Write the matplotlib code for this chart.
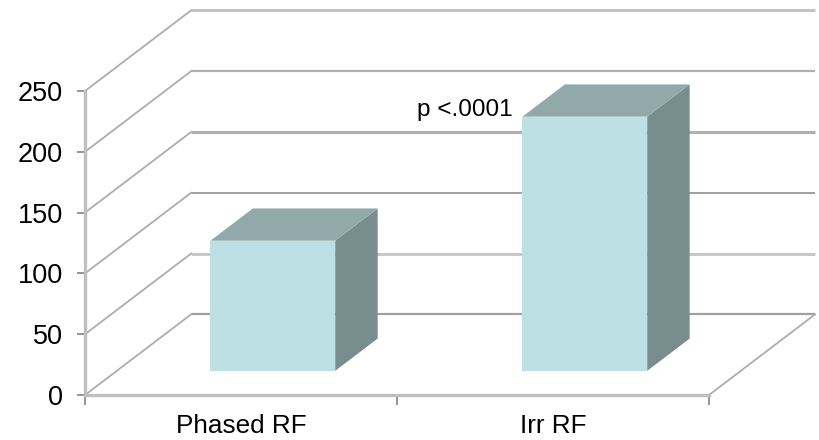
import matplotlib
matplotlib.use('Agg')
import matplotlib.pyplot as plt
from matplotlib.patches import Polygon

# data
categories = ['Phased RF', 'Irr RF']
values = [107, 209]
y_ticks = [0, 50, 100, 150, 200, 250]
p_label = 'p <.0001'

# fake 3D: how far the back wall is shifted, in data units
DEPTH_X = 0.34
DEPTH_Y = 66.3
BAR_WIDTH = 0.40
BAR_FRONT = 0.30
BAR_BACK = 0.70

FRONT_COLOR = '#bce0e4'
TOP_COLOR = '#92a9ac'
SIDE_COLOR = '#788d8e'
GRID_COLOR = '#adadad'
AXIS_COLOR = '#bfbfbf'

plt.rcParams['font.family'] = ['Liberation Sans', 'DejaVu Sans']

W, H = 819, 440
fig = plt.figure(figsize=(W / 100, H / 100), dpi=100)
ax = fig.add_axes([85 / W, (H - 395) / H, 624 / W, 304 / H])
ax.set_xlim(0, len(categories))
ax.set_ylim(0, 250)
ax.patch.set_visible(False)


def project(x, y, depth):
    return x + depth * DEPTH_X, y + depth * DEPTH_Y


# back wall grid lines and the diagonal ones on the side wall
grid_widths = [1.6, 2.0, 1.4, 2.2, 1.6, 2.0]
grid_colors = ['#a0a0a0', '#c4c4c4', '#a0a0a0', '#b0b0b0', '#b0b0b0', '#c0c0c0']
for tick, lw, col in zip(y_ticks, grid_widths, grid_colors):
    x0, y0 = project(0, tick, 1)
    x1, y1 = project(len(categories), tick, 1)
    ax.plot([x0, x1], [y0, y1], color=col, lw=lw, clip_on=False, zorder=1,
            solid_capstyle='butt')
    ax.plot([0, x0], [tick, y0], color=GRID_COLOR, lw=1.3, clip_on=False, zorder=1)

# right edge of the floor
x1, y1 = project(len(categories), 0, 1)
ax.plot([len(categories), x1], [0, y1], color=GRID_COLOR, lw=1.3, clip_on=False, zorder=1)

# bars
for i, val in enumerate(values):
    left = i + 0.5 - BAR_WIDTH / 2
    right = i + 0.5 + BAR_WIDTH / 2
    front = [project(left, 0, BAR_FRONT), project(right, 0, BAR_FRONT),
             project(right, val, BAR_FRONT), project(left, val, BAR_FRONT)]
    top = [project(left, val, BAR_FRONT), project(right, val, BAR_FRONT),
           project(right, val, BAR_BACK), project(left, val, BAR_BACK)]
    side = [project(right, 0, BAR_FRONT), project(right, 0, BAR_BACK),
            project(right, val, BAR_BACK), project(right, val, BAR_FRONT)]
    for pts, col in [(side, SIDE_COLOR), (top, TOP_COLOR), (front, FRONT_COLOR)]:
        ax.add_patch(Polygon(pts, closed=True, facecolor=col, edgecolor='none',
                             clip_on=False, zorder=3))

ax.annotate(p_label, xy=project(1.5 - BAR_WIDTH / 2, values[1], BAR_FRONT),
            xytext=(-10, -4), textcoords='offset pixels', ha='right', va='bottom',
            fontsize=17.5, color='black', zorder=4)

# axes
for name in ['top', 'right']:
    ax.spines[name].set_visible(False)
for name in ['left', 'bottom']:
    ax.spines[name].set_color(AXIS_COLOR)
    ax.spines[name].set_linewidth(2.4)
    ax.spines[name].set_zorder(2)

ax.set_yticks(y_ticks)
ax.set_yticklabels([str(t) for t in y_ticks])
ax.tick_params(axis='y', length=6, width=1.3, color='#8c8c8c', pad=10,
               labelsize=19.5, labelcolor='black')

ax.set_xticks(range(len(categories) + 1))
ax.set_xticklabels([])
ax.tick_params(axis='x', which='major', length=7, width=1.3, color='#8c8c8c')
ax.set_xticks([i + 0.5 for i in range(len(categories))], minor=True)
ax.set_xticklabels(categories, minor=True)
ax.tick_params(axis='x', which='minor', length=0, pad=14, labelsize=18.8,
               labelcolor='black')

fig.savefig('out.png', dpi=100, facecolor='white')
